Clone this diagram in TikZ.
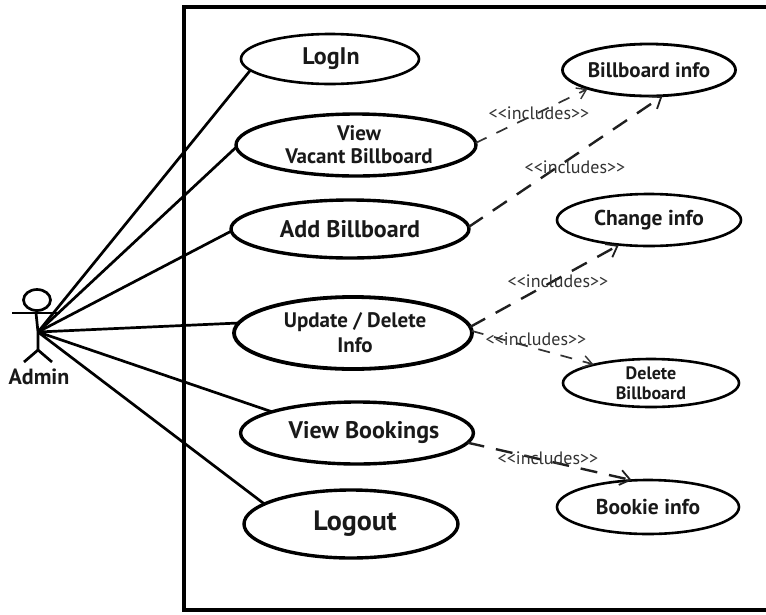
\documentclass[tikz,border=0pt]{standalone}
\usepackage{fontspec}
\setmainfont{PT Sans}
\usetikzlibrary{shapes.geometric,arrows.meta}
\tikzset{
 uc/.style={draw=black,ellipse,inner sep=0pt,outer sep=0pt,align=center,font=\bfseries,text=black!90},
 assoc/.style={draw=black,line width=2.7pt},
 incl/.style={draw=black!88,line width=2.4pt,dash pattern=on 17pt off 12pt,shorten >=1pt,-{Straight Barb[length=10pt,width=15pt,line width=1.8pt]}},
 incl2/.style={draw=black!80,line width=1.7pt,dash pattern=on 12pt off 11pt,shorten >=1pt,-{Straight Barb[length=9pt,width=12pt,line width=1.4pt]}},
 inlabel/.style={font=\fontsize{18}{20}\selectfont,text=black!80,inner sep=0pt},
 limb/.style={draw=black,line width=2.7pt},
}
\begin{document}
\begin{tikzpicture}[x=1pt,y=-1pt]
\useasboundingbox (0,0) rectangle (766,614);
\fill[white] (0,0) rectangle (766,614);
% frame
\coordinate (ftr) at (766,7);
\coordinate (ftl) at (184,7);
\coordinate (fbl) at (184,610);
\coordinate (fbr) at (766,610);
\draw[black,line width=4pt] (ftr) -- (ftl) -- (fbl) -- (fbr);
% use cases
\node[uc,line width=2.6pt,minimum width=178pt,minimum height=50pt,font=\bfseries\fontsize{24}{26}\selectfont] (login) at (330,59) {\hspace*{2pt}LogIn};
\node[uc,line width=3.4pt,minimum width=240pt,minimum height=62pt,font=\bfseries\fontsize{21}{23}\selectfont] (view) at (356,145) {\hspace*{6pt}View\\\hspace*{6pt}Vacant Billboard};
\node[uc,line width=3.4pt,minimum width=238pt,minimum height=58pt,font=\bfseries\fontsize{24}{26}\selectfont] (add) at (350,229) {Add Billboard};
\node[uc,line width=3.8pt,minimum width=238pt,minimum height=72pt,font=\bfseries\fontsize{21}{25}\selectfont] (upd) at (353,333) {\hspace*{4pt}Update / Delete\\\hspace*{4pt}Info};
\node[uc,line width=3.4pt,minimum width=230pt,minimum height=62pt,font=\bfseries\fontsize{24}{26}\selectfont] (book) at (357,433) {\hspace*{14pt}View Bookings};
\node[uc,line width=3.4pt,minimum width=214pt,minimum height=68pt,font=\bfseries\fontsize{28}{30}\selectfont] (logout) at (351,524) {\hspace*{8pt}\raisebox{-3pt}{Logout}};
\node[uc,line width=2.8pt,minimum width=172pt,minimum height=52pt,font=\bfseries\fontsize{21}{24}\selectfont] (binfo) at (649,70) {Billboard info};
\node[uc,line width=2.6pt,minimum width=184pt,minimum height=52pt,font=\bfseries\fontsize{21.5}{24}\selectfont] (cinfo) at (649,220) {Change info};
\node[uc,line width=2.6pt,minimum width=176pt,minimum height=48pt,font=\bfseries\fontsize{18}{20}\selectfont] (del) at (651,383) {Delete\\Billboard};
\node[uc,line width=2.6pt,minimum width=182pt,minimum height=54pt,font=\bfseries\fontsize{21.5}{24}\selectfont] (bookie) at (648,507) {Bookie info};
% actor
\node[draw=black,line width=2.7pt,ellipse,minimum width=27pt,minimum height=21pt,inner sep=0pt] (head) at (37,300) {};
\coordinate (armL) at (12,313);
\coordinate (armR) at (60,313);
\coordinate (neck) at (36,313);
\coordinate (hub) at (38,332);
\coordinate (crotch) at (38,350);
\coordinate (legL) at (24,362);
\coordinate (legR) at (52,362);
\draw[limb] (armL) -- (armR);
\draw[limb] (head.south) -- (neck) -- (hub) -- (crotch);
\draw[limb] (legL) -- (crotch) -- (legR);
\node[font=\bfseries\fontsize{22}{24}\selectfont,text=black!90,inner sep=0pt] (admin) at (39,377) {Admin};
% associations
\draw[assoc] (hub) -- (login.188);
\draw[assoc] (hub) -- (view.181);
\draw[assoc] (hub) -- (add.181);
\draw[assoc] (hub) -- (upd.175);
\draw[assoc] (hub) -- (book.166);
\draw[assoc] (hub) -- (logout.167);
% includes
\draw[incl2] (view.1.5) -- (binfo.197);
\draw[incl] (add.1) -- (binfo.299);
\draw[incl] (upd.3) -- (cinfo.220);
\draw[incl2] (upd.1) -- (del.162);
\draw[incl] (book.-5) -- (bookie.120);
\node[inlabel] (l1) at (539,113) {<{}<includes>{}>};
\node[inlabel] (l2) at (575,167) {<{}<includes>{}>};
\node[inlabel] (l3) at (558,281) {<{}<includes>{}>};
\node[inlabel] (l4) at (536,339) {<{}<includes>{}>};
\node[inlabel] (l5) at (548,458) {<{}<includes>{}>};
\end{tikzpicture}
\end{document}
